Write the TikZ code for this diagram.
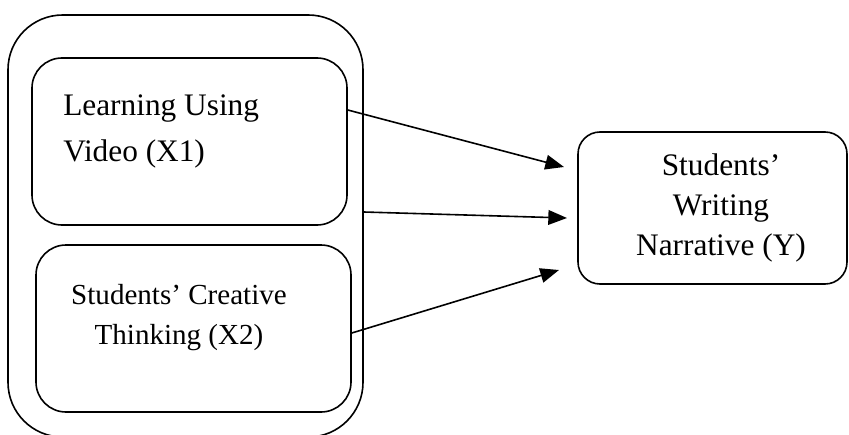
\documentclass[tikz,border=0pt]{standalone}
\usepackage{fontspec}
\setmainfont{Liberation Serif}
\usetikzlibrary{arrows.meta}
\tikzset{
  box/.style={draw, line width=1.2pt, rounded corners=#1, inner sep=0pt},
  box/.default=22.5pt,
  lbl/.style={font=\fontsize{23.5}{30}\selectfont, inner sep=0pt},
  link/.style={line width=1.2pt, -{Triangle[length=14pt,width=11pt]}}
}
\begin{document}
\begin{tikzpicture}[x=0.75pt,y=-0.75pt]
\useasboundingbox (0,0) rectangle (849,435);
\node[box=41pt, minimum width=266.25pt, minimum height=316.5pt] (grp) at (185.5,226) {};
\node[box, minimum width=236.25pt, minimum height=125.25pt] (lv) at (189.5,141.5) {};
\node[box, minimum width=236.25pt, minimum height=125.25pt] (ct) at (193.5,328.5) {};
\node[box=16.5pt, minimum width=201.75pt, minimum height=114pt] (ny) at (712.5,208) {};

\node[lbl, font=\fontsize{23.5}{35}\selectfont, anchor=west, align=left] (lvtext) at (63,131.5) {Learning Using\\Video (X1)};
\node[lbl, font=\fontsize{21.8}{30}\selectfont, align=center] (cttext) at (179,318) {Students’ Creative\\Thinking (X2)};
\node[lbl, align=center] (nytext) at (721,208) {Students’\\Writing\\Narrative (Y)};

\coordinate (t1) at (564,167);
\coordinate (t2) at (567,218);
\coordinate (t3) at (559,270);
\draw[link] (lv.east |- 0,110) -- (t1);
\draw[link] (grp.east |- 0,212) -- (t2);
\draw[link] (ct.east |- 0,333) -- (t3);
\end{tikzpicture}
\end{document}
